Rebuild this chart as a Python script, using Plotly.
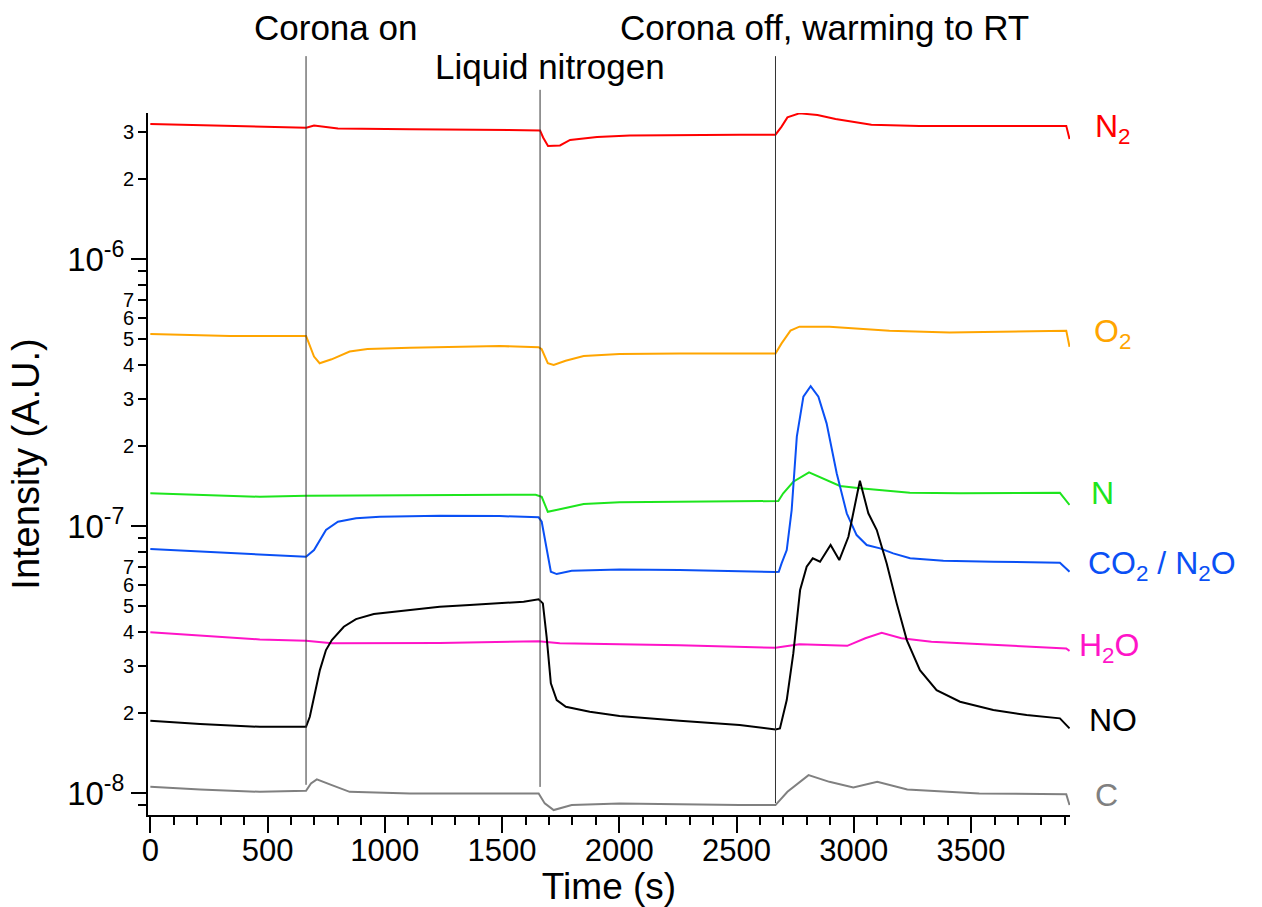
import math
import plotly.graph_objects as go

# ---------------- data (time in s, intensity in A.U.) ----------------
N2_t = [0, 340, 646, 665, 698, 800, 1107, 1643, 1662, 1675, 1696, 1747, 1790, 1905, 2045,
        2513, 2666, 2692, 2717, 2768, 2845, 2922, 3075, 3280, 3663, 3906, 3920]
N2_v = [3.20, 3.15, 3.10, 3.10, 3.16, 3.08, 3.06, 3.04, 3.03, 2.85, 2.65, 2.66, 2.79, 2.86, 2.90,
        2.92, 2.92, 3.13, 3.39, 3.51, 3.46, 3.34, 3.18, 3.15, 3.15, 3.15, 2.81]          # x1e-6

O2_t = [0, 340, 646, 664, 671, 698, 722, 773, 850, 926, 1107, 1490, 1656, 1669, 1695, 1720,
        1771, 1848, 2001, 2257, 2666, 2692, 2730, 2768, 2896, 3024, 3152, 3408, 3906, 3920]
O2_v = [5.24, 5.15, 5.15, 5.15, 4.97, 4.31, 4.07, 4.21, 4.50, 4.60, 4.65, 4.72, 4.67, 4.59, 4.07, 4.01,
        4.16, 4.33, 4.41, 4.43, 4.43, 4.83, 5.39, 5.58, 5.58, 5.50, 5.39, 5.30, 5.39, 4.69]  # x1e-7

N_t = [0, 467, 664, 1234, 1643, 1669, 1695, 1746, 1848, 2001, 2257, 2666, 2678, 2699, 2742,
       2809, 2885, 2941, 3026, 3239, 3453, 3879, 3920]
N_v = [1.326, 1.287, 1.298, 1.306, 1.310, 1.287, 1.131, 1.155, 1.209, 1.227, 1.233, 1.241, 1.241,
       1.326, 1.465, 1.589, 1.487, 1.412, 1.384, 1.332, 1.326, 1.332, 1.199]          # x1e-7

CO2_t = [0, 340, 664, 698, 749, 800, 877, 979, 1234, 1490, 1656, 1669, 1690, 1708, 1733, 1797,
         2001, 2257, 2666, 2680, 2692, 2714, 2735, 2757, 2785, 2816, 2849, 2884, 2927, 2970,
         3012, 3055, 3112, 3168, 3240, 3382, 3595, 3879, 3920]
CO2_v = [8.20, 7.90, 7.67, 8.13, 9.66, 10.38, 10.69, 10.83, 10.93, 10.90, 10.78, 10.38, 8.37, 6.74,
         6.61, 6.80, 6.88, 6.84, 6.73, 6.74, 7.25, 8.13, 11.48, 21.61, 30.5, 33.4, 30.5, 24.24,
         15.76, 11.16, 9.25, 8.49, 8.25, 7.90, 7.57, 7.41, 7.35, 7.29, 6.74]             # x1e-8

H2O_t = [0, 212, 467, 664, 774, 1234, 1656, 1746, 2257, 2666, 2768, 2972, 3049, 3119, 3203,
         3331, 3663, 3906, 3920]
H2O_v = [4.00, 3.88, 3.76, 3.72, 3.64, 3.65, 3.70, 3.64, 3.58, 3.50, 3.61, 3.56, 3.80, 3.98, 3.80,
         3.69, 3.58, 3.48, 3.41]                                                      # x1e-8

NO_t = [0, 212, 467, 664, 680, 698, 723, 749, 774, 825, 877, 953, 1107, 1234, 1362, 1490, 1592,
        1656, 1674, 1690, 1708, 1733, 1772, 1874, 2001, 2257, 2513, 2666, 2685, 2714, 2742, 2771,
        2799, 2825, 2856, 2901, 2938, 2977, 3026, 3062, 3098, 3140, 3183, 3226, 3282, 3353, 3453,
        3595, 3737, 3879, 3920]
NO_v = [1.866, 1.813, 1.771, 1.771, 1.931, 2.294, 2.888, 3.432, 3.741, 4.196, 4.484, 4.682, 4.846,
        4.986, 5.059, 5.134, 5.206, 5.315, 5.134, 3.848, 2.575, 2.230, 2.104, 2.015, 1.943, 1.866,
        1.798, 1.732, 1.747, 2.230, 3.335, 5.758, 7.040, 7.568, 7.350, 8.488, 7.458, 9.118, 14.78,
        11.16, 9.66, 7.25, 5.134, 3.741, 2.888, 2.430, 2.198, 2.046, 1.959, 1.905, 1.747]  # x1e-8

C_t = [0, 212, 467, 664, 685, 710, 774, 850, 1107, 1490, 1656, 1682, 1720, 1797, 2001, 2513,
       2666, 2717, 2807, 2896, 2998, 3100, 3228, 3535, 3906, 3920]
C_v = [1.056, 1.032, 1.011, 1.020, 1.087, 1.126, 1.071, 1.011, 0.997, 0.997, 0.997, 0.915, 0.864,
       0.902, 0.915, 0.902, 0.902, 1.011, 1.168, 1.102, 1.050, 1.102, 1.032, 0.997, 0.991, 0.902]  # x1e-8

SERIES = [
    ("N<sub>2</sub>", N2_t, N2_v, 1e-6, "#ff0000"),
    ("O<sub>2</sub>", O2_t, O2_v, 1e-7, "#ffa500"),
    ("N", N_t, N_v, 1e-7, "#1de51d"),
    ("CO<sub>2</sub> / N<sub>2</sub>O", CO2_t, CO2_v, 1e-8, "#0a50f5"),
    ("H<sub>2</sub>O", H2O_t, H2O_v, 1e-8, "#ff14c8"),
    ("NO", NO_t, NO_v, 1e-8, "#000000"),
    ("C", C_t, C_v, 1e-8, "#808080"),
]
LABEL_POS = [(1.025, 0.978), (1.024, 0.686), (1.021, 0.458), (1.017, 0.356),
             (1.008, 0.239), (1.018, 0.135), (1.025, 0.028)]

EVENTS_T = [664, 1662, 2666]
EVENT_TOP = [1.081, 1.033, 1.081]
EVENT_BOTTOM = [0.043, 0.040, 0.017]
EVENT_TEXT = ["Corona on", "Liquid nitrogen", "Corona off, warming to RT"]
EVENT_TEXT_POS = [(0.203, 1.122), (0.436, 1.066), (0.734, 1.122)]

X_TICKS = [0, 500, 1000, 1500, 2000, 2500, 3000, 3500]
Y_MINOR_VALS = [3e-6, 2e-6, 9e-7, 8e-7, 7e-7, 6e-7, 5e-7, 4e-7, 3e-7, 2e-7,
                9e-8, 8e-8, 7e-8, 6e-8, 5e-8, 4e-8, 3e-8, 2e-8, 9e-9]
Y_MINOR_TEXT = ["3", "2", "", "", "7", "6", "5", "4", "3", "2",
                "", "", "7", "6", "5", "4", "3", "2", ""]
Y_DECADE_VALS = [1e-6, 1e-7, 1e-8]
Y_DECADE_TEXT = ["10<sup>-6</sup>", "10<sup>-7</sup>", "10<sup>-8</sup>"]

FONT = "Arial, 'Liberation Sans', sans-serif"
Y_RANGE = [math.log10(8.28e-9), math.log10(3.52e-6)]

fig = go.Figure()
for (name, t, v, scale, color), (lx, ly) in zip(SERIES, LABEL_POS):
    fig.add_trace(go.Scatter(x=t, y=[val * scale for val in v], mode="lines",
                             line=dict(color=color, width=2), showlegend=False,
                             name=name))
    fig.add_annotation(text=name, x=lx, y=ly, xref="paper", yref="paper",
                       xanchor="left", yanchor="middle", showarrow=False,
                       font=dict(family=FONT, size=32, color=color))

for t, y0, y1 in zip(EVENTS_T, EVENT_BOTTOM, EVENT_TOP):
    fig.add_shape(type="line", xref="x", yref="paper", x0=t, x1=t, y0=y0, y1=y1,
                  line=dict(color="#333333", width=1))
for txt, (tx, ty) in zip(EVENT_TEXT, EVENT_TEXT_POS):
    fig.add_annotation(text=txt, x=tx, y=ty, xref="paper", yref="paper",
                       xanchor="center", yanchor="middle", showarrow=False,
                       font=dict(family=FONT, size=35, color="black"))

fig.update_layout(
    width=1262, height=907,
    margin=dict(l=148, r=192, t=113, b=92),
    paper_bgcolor="white", plot_bgcolor="white",
    font=dict(family=FONT, color="black"),
    xaxis=dict(range=[-10, 3922], tickmode="array", tickvals=X_TICKS, automargin=False,
               ticks="outside", ticklen=16, tickwidth=1.5, tickcolor="black",
               showline=True, linecolor="black", linewidth=2, showgrid=False, zeroline=False,
               tickfont=dict(size=31, family=FONT), ticklabelstandoff=-9,
               minor=dict(tickmode="linear", tick0=0, dtick=100, ticks="outside",
                          ticklen=8, tickwidth=1.5, tickcolor="black"),
               title=dict(text="Time (s)", font=dict(size=37, family=FONT), standoff=0)),
    yaxis=dict(type="log", range=Y_RANGE, tickmode="array", tickvals=Y_MINOR_VALS,
               ticktext=Y_MINOR_TEXT, ticks="outside", ticklen=8, tickwidth=1.5,
               tickcolor="black", showline=True, linecolor="black", linewidth=2,
               showgrid=False, zeroline=False, tickfont=dict(size=20, family=FONT),
               automargin=False,
               title=dict(text="Intensity (A.U.)", font=dict(size=38, family=FONT),
                          standoff=72)),
    yaxis2=dict(type="log", range=Y_RANGE, overlaying="y", anchor="x", side="left",
                tickmode="array", tickvals=Y_DECADE_VALS, ticktext=Y_DECADE_TEXT,
                ticks="outside", ticklen=16, tickwidth=1.5, tickcolor="black", automargin=False,
                showline=False, showgrid=False, zeroline=False,
                tickfont=dict(size=33, family=FONT)),
)
# invisible trace to activate the decade-label axis
fig.add_trace(go.Scatter(x=[None], y=[None], yaxis="y2", showlegend=False, hoverinfo="skip"))

fig.write_html("out.html")
